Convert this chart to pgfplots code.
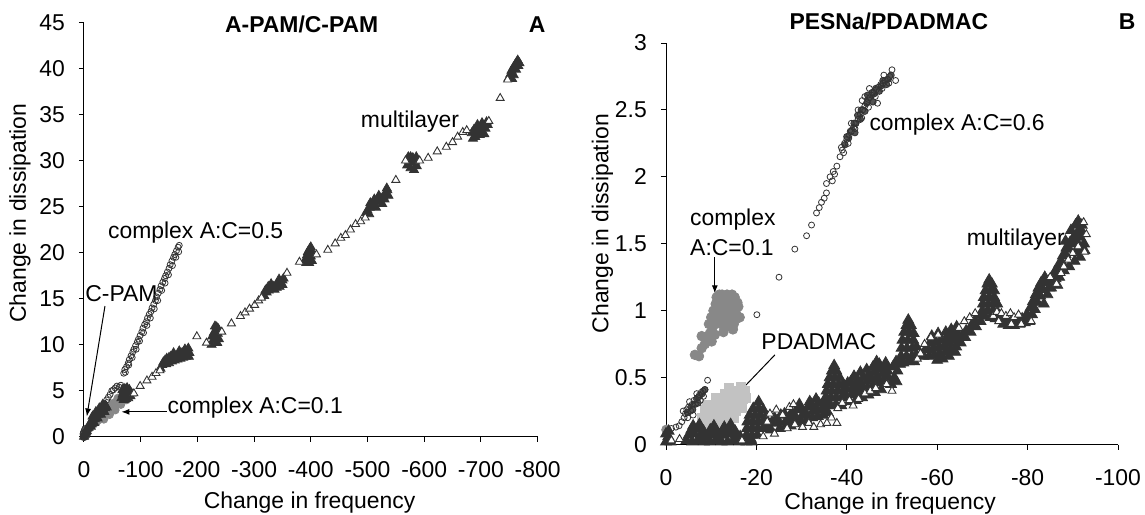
\documentclass[border=0pt]{standalone}
\usepackage{fontspec}
\setmainfont{Liberation Sans}
\usepackage{pgfplots}
\pgfplotsset{compat=1.18}
\usetikzlibrary{arrows.meta}
\definecolor{dk}{HTML}{333333}
\definecolor{gm}{HTML}{888888}
\definecolor{gl}{HTML}{C2C2C2}
\pgfplotsset{
  excel/.style={
    scale only axis, clip=false, enlargelimits=false,
    axis x line*=bottom, axis y line*=left,
    axis line style={-, black, line width=0.5bp},
    tick align=outside, major tick length=2.6bp,
    tick style={black, line width=0.5bp},
    x dir=reverse,
    font=\fontsize{11.5}{13.5}\selectfont,
    tick label style={font=\fontsize{11.5}{13.5}\selectfont},
    xticklabel style={yshift=-6.5bp},
    yticklabel style={xshift=-3.5bp},
    /pgf/number format/assume math mode=true,
    /pgf/number format/use period,
    minor tick num=0,
  },
  tdark/.style={only marks, mark=triangle*, mark size=2.6bp, mark options={fill=dk, draw=dk, line width=0.4bp}},
  topen/.style={only marks, mark=triangle*, mark size=2.3bp, mark options={fill=white, draw=dk, line width=0.45bp}},
  cline/.style={only marks, mark=o, mark size=1.5bp, mark options={draw=dk, line width=0.4bp}},
  cdark/.style={only marks, mark=*, mark size=1.6bp, mark options={fill=dk!85, draw=dk}},
}
\begin{document}
\begin{tikzpicture}
\useasboundingbox (0bp,0bp) rectangle (572.5bp,-257.5bp);
% ---------------- Panel A ----------------
\begin{axis}[excel, at={(42bp,-218.35bp)}, anchor=south west, width=226.8bp, height=207bp,
  xmin=-800, xmax=0, ymin=0, ymax=45,
  xtick={-800,-700,-600,-500,-400,-300,-200,-100,0},
  ytick={0,5,10,15,20,25,30,35,40,45}]
% complex A:C=0.1 (grey)
\addplot[only marks, mark=*, mark size=2bp, mark options={fill=gm, draw=gm}] coordinates {
(-2,0.4) (-5,0.7) (-8,0.9) (-10,1.0) (-13,1.2) (-16,1.3) (-19,1.5) (-22,1.6) (-25,1.8) (-28,2.0)
(-31,2.1) (-34,2.3) (-37,2.5) (-40,2.6) (-43,2.8) (-46,2.9) (-49,3.1) (-52,3.3) (-55,3.4) (-58,3.6)
(-61,3.8) (-64,3.9) (-67,4.1) (-70,4.2) (-73,4.4) (-76,4.5) (-79,4.6)
(-20,1.9) (-30,2.5) (-40,3.1) (-50,3.6) (-60,4.2) (-70,4.7) (-35,1.9) (-45,2.4) (-55,2.9) (-65,3.5) (-75,4.0)
(-25,2.2) (-45,3.3) (-58,3.9)
};
% complex A:C=0.5 (open circles)
\addplot[cline] coordinates {
(-30,3.0) (-33,3.3) (-36,3.6) (-40,4.0) (-43,4.3) (-46,4.6) (-49,5.0) (-52,5.1) (-55,5.3) (-58,5.5) (-62,5.4) (-65,5.6)
(-70,6.9) (-72,7.3) (-75,7.6) (-78,8.0) (-80,8.4) (-83,8.8) (-86,9.2) (-88,9.5) (-91,9.9) (-94,10.3)
(-96,10.6) (-99,11.0) (-102,11.4) (-104,11.8) (-107,12.2) (-110,12.5) (-112,12.9) (-115,13.3) (-118,13.6) (-120,14.0)
(-123,14.4) (-126,14.8) (-128,15.2) (-131,15.6) (-134,16.0) (-136,16.4) (-139,16.8) (-142,17.2) (-144,17.5) (-147,17.9)
(-150,18.3) (-152,18.7) (-155,19.1) (-158,19.5) (-160,19.8) (-163,20.2) (-166,20.6) (-168,20.8)
(-73,7.0) (-79,7.8) (-85,8.6) (-92,9.5) (-98,10.4) (-105,11.3) (-111,12.1) (-117,12.9) (-124,13.9) (-130,14.8)
(-137,15.9) (-143,16.7) (-149,17.6) (-156,18.6) (-162,19.5) (-167,20.1)
};
% C-PAM (dark, near origin)
\addplot[cdark, mark size=2bp] coordinates {
(0,0) (-1,0.2) (-2,0.1) (-3,0.4) (-1,0.5) (-4,0.2) (-2,0.6) (-5,0.5) (0,0.3) (-3,0.8)
};
% multilayer: dense parts
\addplot[tdark] coordinates {
(0,0) (-1,0.3) (-3,0.5) (-5,0.6) (-6,0.9) (-8,1.0) (-10,1.2) (-11,1.5) (-13,1.4) (-14,1.8) (-16,1.7) (-17,2.0)
(-19,1.9) (-20,2.3) (-22,2.2) (-23,2.5) (-25,2.4) (-26,2.8) (-28,2.6) (-29,3.0) (-31,2.8) (-32,3.1) (-34,2.9)
(-35,3.3) (-37,3.1) (-38,3.4) (-40,3.2) (-15,2.2) (-21,2.7) (-27,3.1) (-33,3.5) (-12,1.1) (-18,1.5) (-24,2.0)
(-30,2.4) (-36,2.7)
(-66,4.2) (-68,4.6) (-70,4.0) (-70,4.9) (-72,4.4) (-74,4.8) (-74,4.1) (-76,4.5) (-78,4.9) (-78,4.2) (-80,4.6)
(-82,4.4) (-84,4.7) (-72,5.2) (-76,5.3) (-68,5.1) (-80,5.1)
(-135,7.4) (-138,7.8) (-140,8.1) (-143,8.3) (-146,8.5) (-150,8.6) (-153,8.7) (-156,8.6) (-160,8.8) (-163,8.7)
(-166,8.9) (-170,9.0) (-173,9.1) (-176,9.0) (-180,9.2) (-183,9.3) (-186,9.1) (-150,8.0) (-155,8.2) (-160,8.3)
(-165,8.4) (-170,8.5) (-175,8.6) (-180,8.7) (-185,8.7) (-145,7.9) (-158,9.1) (-168,9.3) (-178,9.5) (-184,9.6)
(-225,10.0) (-228,10.5) (-230,11.0) (-232,11.5) (-234,11.9) (-236,11.2) (-238,10.6) (-235,10.2) (-231,12.0)
(-229,11.3) (-233,10.8) (-237,11.7) (-226,10.9)
(-318,15.3) (-322,15.7) (-326,15.9) (-330,16.1) (-334,16.3) (-338,16.4) (-342,16.6) (-346,16.8) (-350,17.0)
(-325,16.3) (-330,16.6) (-336,16.0) (-340,16.2) (-345,16.3) (-350,16.5) (-352,17.2) (-320,15.9) (-344,17.1)
(-390,19.2) (-393,19.7) (-395,20.1) (-398,20.4) (-400,19.6) (-402,19.1) (-397,18.9) (-403,20.0) (-392,18.9)
(-396,19.4) (-400,20.6)
(-497,24.3) (-500,24.6) (-504,24.9) (-508,25.1) (-512,25.3) (-516,25.5) (-520,25.7) (-524,25.9) (-528,26.1)
(-532,26.4) (-535,26.8) (-537,26.2) (-505,25.4) (-512,25.8) (-520,26.2) (-526,25.3) (-515,24.9) (-530,25.8)
(-503,24.2) (-534,27.0)
(-570,29.5) (-573,30.0) (-576,30.4) (-580,30.3) (-584,29.9) (-587,29.4) (-582,29.0) (-576,29.2) (-578,29.8)
(-586,30.4) (-572,30.4)
(-684,33.0) (-688,33.4) (-692,33.1) (-696,33.6) (-700,33.3) (-704,33.8) (-708,33.5) (-712,33.9) (-690,32.6)
(-698,32.8) (-706,32.9) (-702,34.1) (-694,33.9) (-686,32.4) (-710,34.2)
(-749,39.0) (-752,39.4) (-754,39.8) (-757,40.1) (-760,40.4) (-763,40.7) (-765,40.9) (-766,40.3) (-762,39.9)
(-758,39.3) (-755,38.9) (-768,40.6)
};
% multilayer: sparse parts
\addplot[topen] coordinates {
(-88,4.7) (-99,5.5) (-111,6.1) (-120,6.5) (-127,6.9) (-134,7.2) (-199,10.9) (-216,10.2) (-243,11.4) (-260,12.3)
(-276,13.1) (-284,13.5) (-292,13.9) (-301,14.3) (-308,14.8) (-313,15.1) (-358,17.8) (-380,19.0) (-410,19.8)
(-430,20.3) (-443,21.0) (-453,21.6) (-461,21.9) (-470,22.5) (-479,23.1) (-488,23.4) (-496,23.8) (-550,27.9)
(-567,30.0) (-592,30.0) (-607,30.3) (-623,31.0) (-639,31.5) (-650,32.0) (-659,32.6) (-668,33.1) (-675,33.3)
(-714,34.3) (-734,36.8) (-747,38.8)
};
% annotations
\node[font=\fontsize{11.5}{13.5}\selectfont\bfseries] at (axis cs:-384,44.8) {A-PAM/C-PAM};
\node[font=\fontsize{11.5}{13.5}\selectfont\bfseries] at (axis cs:-799,44.8) {A};
\node at (axis cs:-197,22.2) {complex A:C=0.5};
\node at (axis cs:-575,34.3) {multilayer};
\node at (axis cs:-66,15.5) {C-PAM};
\node at (axis cs:-302,3.2) {complex A:C=0.1};
\draw[-{Latex[length=4bp,width=3bp]}, line width=0.5bp] (axis cs:-37,14.2) -- (axis cs:-5,2.2);
\draw[-{Latex[length=4bp,width=3bp]}, line width=0.5bp] (axis cs:-146,2.7) -- (axis cs:-66,2.7);
\node[rotate=90] at (axis cs:113,24.3) {Change in dissipation};
\node at (axis cs:-398,-7.2) {Change in frequency};
\end{axis}
% ---------------- Panel B ----------------
\begin{axis}[excel, at={(333bp,-222.25bp)}, anchor=south west, width=226bp, height=200.75bp,
  xmin=-100, xmax=0, ymin=0, ymax=3,
  xtick={-100,-80,-60,-40,-20,0},
  ytick={0,0.5,1,1.5,2,2.5,3},
  tdark/.append style={mark size=3.1bp}]
% complex A:C=0.1 (grey)
\addplot[only marks, mark=*, mark size=2.4bp, mark options={fill=gm, draw=gm}] coordinates {
(-10.5,1.0) (-11,1.05) (-11.5,0.98) (-12,1.08) (-12.5,1.02) (-13,1.1) (-13.5,1.05) (-14,1.0) (-14.5,1.07)
(-15,1.02) (-15.5,0.98) (-16,1.03) (-13,0.95) (-14,0.92) (-12,0.93) (-11,0.9) (-15,0.9) (-16.3,0.95) (-10,0.95)
(-12.8,0.88) (-14.8,0.86) (-13.5,1.12) (-11.8,1.12) (-15.2,1.10) (-10.2,0.85) (-9.7,0.83) (-10.1,0.77)
(-7.9,0.81) (-7.9,0.72) (-7.3,0.66) (-6.4,0.67) (-9.5,0.9) (-12.7,0.84) (-10.4,0.91) (-0.1,0.11)
(-11.2,1.10) (-12.2,1.00) (-13.2,1.02) (-14.2,1.08) (-15.8,1.06) (-13.8,0.97) (-12.4,1.12) (-14.6,1.12)
(-11.6,0.95) (-15.6,0.94) (-13.6,0.89) (-10.8,0.82) (-9.2,0.79) (-8.6,0.75)
};
% PDADMAC (light grey squares)
\addplot[only marks, mark=square*, mark size=2.2bp, mark options={fill=gl, draw=gl}] coordinates {
(-8,0.13) (-8,0.2) (-8.5,0.26) (-9,0.15) (-9.5,0.22) (-10,0.12) (-10,0.28) (-10.5,0.18) (-11,0.24) (-11.5,0.13)
(-11.5,0.3) (-12,0.2) (-12.5,0.27) (-12.5,0.34) (-13,0.16) (-13,0.38) (-13.5,0.23) (-13.5,0.3) (-14,0.36)
(-14,0.42) (-14.5,0.28) (-15,0.33) (-15,0.4) (-15.5,0.25) (-16,0.3) (-16,0.38) (-16.5,0.43) (-17,0.34)
(-17.5,0.4) (-15,0.2) (-14,0.22) (-12,0.12) (-9,0.1) (-9,0.3) (-11,0.35) (-16.8,0.27) (-17.8,0.35)
};
% multilayer dense
\addplot[tdark] coordinates {
(0,0.02) (-0.5,0.06) (-1,0.02) (0,0.08) (-0.6,0.1)
(-4.5,0.03) (-5.8,0.02) (-7.1,0.03) (-8.4,0.02) (-9.7,0.02) (-11.0,0.03) (-12.3,0.02) (-13.6,0.02) (-14.9,0.03) (-16.2,0.02)
(-5.0,0.07) (-6.3,0.08) (-7.6,0.07) (-8.9,0.06) (-10.2,0.07) (-11.5,0.06) (-12.8,0.07) (-14.1,0.08) (-15.4,0.07) (-16.4,0.06)
(-5.6,0.11) (-7.0,0.12) (-8.3,0.10) (-9.8,0.11) (-11.2,0.10) (-12.6,0.11) (-14.0,0.12) (-15.3,0.10)
(-6.0,0.14) (-7.4,0.15) (-10.6,0.14) (-12.9,0.13) (-14.3,0.15)
(-17.8,0.02) (-19,0.02) (-17.8,0.07) (-19,0.07) (-20.2,0.07) (-17.9,0.12) (-19.1,0.12) (-20.3,0.12) (-21.5,0.12)
(-18,0.17) (-19.2,0.17) (-20.4,0.17) (-21.6,0.17) (-18.5,0.22) (-19.7,0.22) (-20.9,0.22) (-22,0.2) (-19.3,0.27)
(-20.5,0.27) (-21.5,0.26) (-20.5,0.32) (-22.3,0.14) (-18.8,0.04)
(-23.2,0.11) (-23.6,0.16) (-24.0,0.20) (-25.2,0.12) (-25.0,0.17) (-25.4,0.22) (-26.4,0.13) (-26.6,0.18) (-26.2,0.23)
(-27.6,0.14) (-27.4,0.19) (-27.8,0.24) (-28.8,0.16) (-28.6,0.21) (-29.0,0.26) (-30.0,0.17) (-30.2,0.22) (-29.8,0.27)
(-31.2,0.18) (-31.0,0.23) (-31.4,0.28) (-32.4,0.20) (-32.6,0.25) (-32.2,0.30) (-33.6,0.21) (-33.4,0.26) (-33.8,0.31)
(-34.8,0.22) (-34.6,0.27) (-35.0,0.32) (-35.8,0.24) (-36.0,0.29) (-35.6,0.34) (-29.5,0.30) (-31.8,0.32) (-33.2,0.34)
(-35.2,0.30) (-36.4,0.29) (-37.6,0.30) (-38.8,0.29) (-35.3,0.35) (-36.5,0.35) (-37.7,0.35) (-38.9,0.35)
(-35.5,0.40) (-36.7,0.40) (-37.9,0.40) (-39.1,0.40) (-35.8,0.45) (-37.0,0.45) (-38.2,0.45) (-39.2,0.45)
(-36.2,0.50) (-37.3,0.50) (-38.4,0.50) (-36.7,0.55) (-37.7,0.55) (-37.2,0.59)
(-39.8,0.36) (-40.0,0.41) (-40.2,0.46) (-41.0,0.37) (-41.2,0.42) (-40.9,0.47) (-42.2,0.38) (-42.0,0.43) (-42.4,0.48)
(-43.4,0.40) (-43.2,0.45) (-43.6,0.50) (-44.6,0.42) (-44.4,0.47) (-44.8,0.52) (-45.8,0.44) (-45.6,0.49) (-46.0,0.54)
(-47.0,0.46) (-46.8,0.51) (-47.2,0.56) (-48.2,0.48) (-48.0,0.53) (-48.4,0.58) (-49.2,0.50) (-49.0,0.55) (-48.6,0.61)
(-40.6,0.32) (-42.0,0.33) (-43.4,0.35) (-44.8,0.37) (-46.2,0.39) (-47.6,0.41) (-41.6,0.51) (-43.0,0.54)
(-44.4,0.56) (-45.8,0.58) (-47.2,0.60) (-46.6,0.62)
(-49.8,0.45) (-50.5,0.50) (-51.2,0.55) (-51.0,0.47) (-50.2,0.58) (-51.8,0.60) (-50.9,0.62)
(-52.0,0.66) (-53.2,0.66) (-54.4,0.66) (-55.4,0.67) (-52.1,0.72) (-53.3,0.72) (-54.5,0.72) (-55.4,0.73)
(-52.3,0.78) (-53.5,0.78) (-54.7,0.78) (-52.7,0.84) (-53.8,0.84) (-54.8,0.83) (-53.2,0.89) (-54.2,0.89) (-53.6,0.93)
(-52.5,0.61) (-53.7,0.62) (-54.9,0.62)
(-57.0,0.66) (-57.4,0.71) (-58.2,0.66) (-58.0,0.71) (-58.4,0.76) (-59.4,0.67) (-59.2,0.72) (-59.6,0.77)
(-60.6,0.68) (-60.4,0.73) (-60.8,0.78) (-61.8,0.69) (-61.6,0.74) (-62.0,0.79) (-61.9,0.84) (-63.0,0.71) (-62.8,0.76)
(-63.2,0.81) (-63.1,0.86) (-64.2,0.73) (-64.0,0.78) (-64.4,0.83) (-64.3,0.88) (-65.2,0.76) (-65.4,0.81)
(-58.8,0.81) (-60.2,0.83) (-61.2,0.64) (-62.6,0.66) (-64.0,0.69) (-60.0,0.63)
(-66.2,0.80) (-66.4,0.85) (-67.4,0.84) (-67.6,0.89) (-68.6,0.88) (-68.4,0.93) (-69.6,0.92) (-69.8,0.97)
(-70.0,1.00) (-71.2,1.00) (-72.4,1.00) (-73.3,0.99) (-70.1,1.05) (-71.3,1.05) (-72.5,1.05) (-73.3,1.05)
(-70.3,1.10) (-71.5,1.10) (-72.6,1.10) (-70.7,1.15) (-71.8,1.15) (-72.6,1.15) (-71.1,1.20) (-72.1,1.20) (-71.5,1.23)
(-70.5,0.96) (-71.8,0.95) (-72.9,0.94)
(-74.6,0.90) (-75.8,0.89) (-77.0,0.89) (-78.2,0.90) (-79.4,0.91) (-75.2,0.93) (-76.4,0.92) (-77.6,0.93) (-78.8,0.94)
(-80.0,0.95) (-74.0,0.94)
(-79.2,0.92) (-80.4,0.92) (-81.0,0.97) (-79.8,0.97) (-81.6,1.01) (-80.6,1.02) (-82.2,1.06) (-81.2,1.07) (-82.8,1.11)
(-81.8,1.12) (-83.4,1.16) (-82.4,1.17) (-83.9,1.21) (-83.0,1.21) (-83.8,1.25) (-84.4,1.12) (-84.8,1.17) (-83.6,1.05)
(-84.6,1.22)
(-85.2,1.17) (-85.6,1.22) (-86.2,1.24) (-86.0,1.29) (-86.8,1.30) (-87.0,1.35) (-87.6,1.36) (-87.8,1.41) (-88.4,1.42)
(-88.6,1.47) (-89.2,1.46) (-89.4,1.51) (-90.0,1.50) (-90.2,1.55) (-90.8,1.52) (-91.0,1.58) (-91.6,1.55) (-91.6,1.61)
(-92.2,1.58) (-92.0,1.64) (-92.5,1.50) (-91.8,1.46) (-90.6,1.44)
(-88.0,1.30) (-89.2,1.33) (-90.4,1.37) (-91.6,1.40) (-92.6,1.45) (-87.0,1.25) (-89.6,1.60) (-90.6,1.64)
(-91.2,1.67) (-88.4,1.52) (-86.6,1.19)
};
% multilayer sparse
\addplot[topen] coordinates {
(-1.2,0.03) (-3.0,0.04) (-16.8,0.03) (-21.5,0.06) (-22.4,0.17) (-23.0,0.23) (-24.4,0.26) (-25.8,0.22) (-24.0,0.08)
(-27.3,0.28) (-28.2,0.30) (-26.8,0.12) (-28.5,0.15) (-30.2,0.13) (-31.6,0.16) (-32.7,0.13) (-34.2,0.15) (-35.6,0.16)
(-36.6,0.20) (-37.8,0.16) (-38.0,0.27) (-39.0,0.31) (-40.6,0.33) (-41.4,0.29) (-42.6,0.34) (-44.0,0.38) (-45.2,0.40)
(-46.4,0.42) (-48.8,0.45) (-50.0,0.40) (-55.6,0.64) (-56.3,0.68) (-57.2,0.75) (-58.6,0.80) (-60.2,0.82) (-64.8,0.87)
(-66.0,0.92) (-67.2,0.95) (-68.4,0.98) (-72.4,0.96) (-73.2,0.99) (-74.2,0.98) (-75.2,0.96) (-76.2,0.98) (-77.0,0.95)
(-78.0,0.97) (-73.6,0.92) (-76.4,0.90) (-78.6,0.90) (-80.8,0.92) (-85.0,1.25) (-86.4,1.20) (-87.4,1.28) (-88.0,1.33)
(-89.0,1.38) (-90.0,1.43) (-91.2,1.48) (-92.6,1.44) (-92.4,1.66) (-93.0,1.57)
};
% dark core (PESNa near origin and dense part of A:C=0.6)
\addplot[cdark] coordinates {
(-4.8,0.24) (-5.5,0.28) (-6.2,0.30) (-6.8,0.34) (-7.4,0.36) (-8.0,0.38) (-8.6,0.41) (-5.9,0.26) (-7.1,0.31)
(-39.6,2.24) (-40.4,2.29) (-41.2,2.35) (-42.0,2.40) (-42.8,2.45) (-43.6,2.50) (-44.4,2.55) (-45.2,2.59)
(-46.0,2.62) (-46.8,2.65) (-47.6,2.68) (-48.4,2.71) (-49.2,2.73) (-41.6,2.40) (-43.2,2.50) (-44.8,2.58)
(-46.4,2.66) (-48.0,2.72) (-40.8,2.34) (-45.6,2.63) (-40.0,2.30) (-41.8,2.33) (-43.0,2.43) (-44.0,2.49)
(-45.8,2.56) (-47.2,2.64) (-48.8,2.69) (-49.8,2.76) (-42.4,2.46) (-44.6,2.61)
};
% complex A:C=0.6 (open circles)
\addplot[cline] coordinates {
(-1.2,0.12) (-2.2,0.13) (-2.9,0.14) (-3.5,0.17) (-4.0,0.2) (-4.3,0.23) (-4.6,0.26) (-5.0,0.28) (-5.5,0.25) (-5.8,0.3)
(-6.2,0.33) (-6.5,0.3) (-7.0,0.35) (-7.4,0.37) (-7.8,0.39) (-8.2,0.4) (-8.6,0.41) (-6.0,0.22) (-4.8,0.2) (-3.8,0.25)
(-5.2,0.32) (-6.8,0.38) (-7.6,0.33) (-8.3,0.36)
(-9.2,0.48) (-20.1,0.97) (-25.0,1.25) (-28.5,1.46) (-31.1,1.56) (-32.2,1.64) (-33.3,1.73) (-33.9,1.77) (-34.4,1.81)
(-35.0,1.84) (-35.5,1.88) (-35.5,1.95) (-36.3,2.0) (-37.0,2.04) (-37.8,2.08) (-38.5,2.15) (-36.8,1.97) (-37.3,2.02)
(-39.0,2.2) (-39.5,2.25) (-40.0,2.28) (-40.5,2.31) (-41.0,2.34) (-41.5,2.37) (-42.0,2.4) (-42.5,2.43) (-43.0,2.47)
(-43.5,2.5) (-44.0,2.53) (-44.5,2.56) (-45.0,2.59) (-45.5,2.61) (-46.0,2.63) (-46.5,2.65) (-47.0,2.67) (-47.5,2.69)
(-48.0,2.7) (-48.5,2.72) (-49.0,2.73) (-49.5,2.75) (-50.0,2.8) (-50.8,2.72) (-49.3,2.7) (-47.8,2.66) (-46.3,2.6)
(-44.8,2.52) (-43.3,2.44) (-41.8,2.36) (-40.3,2.25) (-39.3,2.18) (-38.8,2.22) (-46.8,2.55) (-44.0,2.6) (-42.5,2.5)
(-41.0,2.4) (-45.0,2.66) (-48.2,2.76) (-43.4,2.57)
};
% annotations
\node[font=\fontsize{11.5}{13.5}\selectfont\bfseries] at (axis cs:-49.3,3.16) {PESNa/PDADMAC};
\node[font=\fontsize{11.5}{13.5}\selectfont\bfseries] at (axis cs:-102,3.16) {B};
\node at (axis cs:-64.4,2.39) {complex A:C=0.6};
\node at (axis cs:-77.4,1.53) {multilayer};
\node[anchor=west] at (axis cs:-3.8,1.68) {complex};
\node[anchor=west] at (axis cs:-3.8,1.47) {A:C=0.1};
\node at (axis cs:-33.8,0.77) {PDADMAC};
\draw[-{Latex[length=4bp,width=3bp]}, line width=0.5bp] (axis cs:-10.8,1.40) -- (axis cs:-10.8,1.13);
\draw[-{Latex[length=4bp,width=3bp]}, line width=0.5bp] (axis cs:-24.1,0.67) -- (axis cs:-15.3,0.36);
\node[rotate=90] at (axis cs:14.05,1.65) {Change in dissipation};
\node at (axis cs:-49.6,-0.44) {Change in frequency};
\end{axis}
\end{tikzpicture}
\end{document}
